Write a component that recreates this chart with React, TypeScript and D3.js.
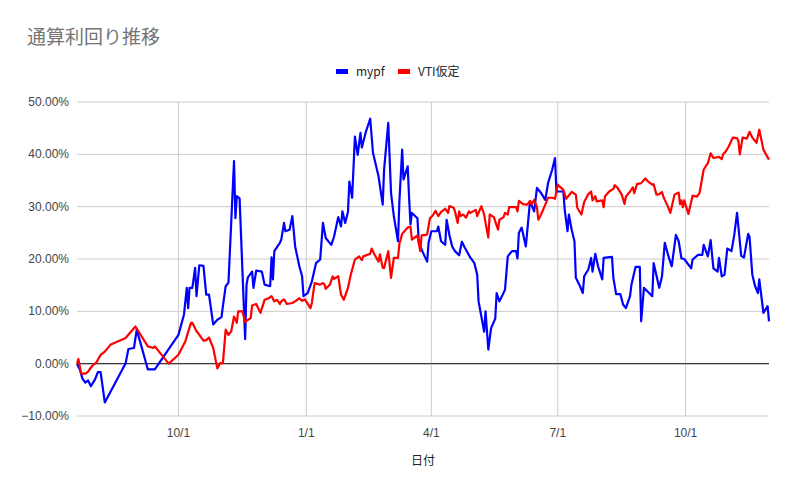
import React from "react";
import * as d3 from "d3";

const START = Date.UTC(2020, 6, 20);
const END_DAY = 498;

const mypfDays = [0,2,4,6,8,10,13,15,17,20,35,37,41,43,51,56,73,77,79,80,81,83,85,86,88,91,93,95,98,101,104,105,107,109,113,114,115,117,121,122,123,126,127,129,133,135,139,140,141,142,146,147,149,150,153,155,157,160,162,163,166,169,172,175,177,179,183,185,188,190,191,193,195,196,198,200,202,204,205,208,211,213,217,220,221,224,226,228,231,232,234,235,238,239,240,241,245,246,249,252,253,255,259,260,262,265,266,268,270,272,275,277,279,283,286,288,289,291,293,294,296,298,301,302,304,308,310,313,316,317,318,320,323,326,329,331,334,337,339,342,344,345,350,351,353,354,356,358,359,362,364,365,368,370,371,373,375,378,379,385,386,388,391,393,395,398,399,402,405,406,408,414,415,419,421,423,426,428,431,433,435,437,442,443,447,450,451,454,456,458,461,462,464,466,468,471,473,475,478,480,483,484,486,488,490,491,494,497,498];
const mypfValues = [0,-1.1,-2.9,-3.6,-3.2,-4.3,-3.0,-1.6,-1.6,-7.4,0.1,2.8,3.0,6.5,-1.1,-1.1,5.5,9.4,14.5,10.6,14.5,14.5,18.3,12.9,18.8,18.7,13.2,13.2,7.5,8.4,8.9,11.0,14.8,15.5,38.7,27.8,32.0,31.6,4.7,15.1,16.5,17.6,14.5,17.8,17.6,15.1,14.8,20.3,16.1,21.5,23.1,23.7,26.9,25.3,25.6,28.2,22.4,18.6,16.7,12.9,13.5,15.7,19.2,19.9,26.9,24.0,22.7,24.3,28.0,26.2,29.1,26.9,29.0,34.8,31.7,43.4,39.9,44.1,41.3,44.4,46.8,40.3,35.8,30.4,37.1,46.0,32.6,28.2,23.4,31.0,40.9,35.2,37.7,31.7,26.6,28.8,27.8,23.1,21.2,19.5,23.1,25.3,25.3,26.2,23.4,22.7,27.5,24.6,22.4,21.5,20.7,23.3,22.2,20.3,19.2,17.0,11.9,9.0,6.1,10.0,2.7,6.8,8.6,13.5,11.9,14.1,20.5,21.5,21.5,20.1,25.0,26.0,22.4,31.0,29.1,33.6,32.6,31.3,34.5,37.1,39.3,32.9,32.9,29.4,25.3,28.5,25.6,23.4,16.4,14.8,13.5,16.7,18.0,20.2,17.6,21.0,18.6,16.1,20.2,20.4,16.4,13.3,13.3,11.3,10.6,12.9,15.1,18.5,18.5,8.1,14.5,12.9,19.2,14.5,16.7,23.1,20.2,18.6,24.6,23.4,20.1,20.0,18.2,19.9,20.8,20.8,22.7,20.5,23.6,18.2,17.6,20.2,16.7,17.0,22.0,21.5,24.6,28.8,20.6,20.3,24.8,24.2,17.0,14.8,13.5,16.1,9.7,11.0,8.1];

const vtiDays = [0,1,3,6,8,11,14,17,20,24,35,42,51,55,56,66,73,78,82,83,86,87,91,93,95,98,101,103,105,107,109,111,113,115,116,119,121,122,125,126,129,132,135,138,140,142,144,146,147,149,151,155,157,160,162,164,168,169,170,171,175,177,178,179,182,184,185,188,190,192,195,197,200,203,205,206,211,212,214,217,218,220,221,224,226,228,231,232,234,238,240,241,244,245,247,248,251,252,254,256,258,260,262,265,267,268,271,272,274,275,276,278,280,282,283,285,287,288,291,293,294,296,297,300,303,304,307,308,310,311,316,317,318,321,324,326,327,329,331,332,334,337,339,342,344,345,346,350,352,356,359,360,363,365,368,370,371,373,374,378,379,380,383,386,387,389,392,394,395,398,400,401,403,406,409,411,414,415,417,419,421,422,423,425,427,430,433,434,435,436,437,440,443,446,448,449,451,454,456,458,462,464,465,467,469,472,475,476,477,479,482,484,486,489,491,494,496,498];
const vtiValues = [0,0.9,-1.9,-1.9,-1.5,-0.4,0.25,1.7,2.3,3.6,4.9,7.1,3.3,3.0,3.3,0,1.7,4.3,7.8,7.8,6.2,5.9,4.4,4.5,5.0,3.0,-0.9,0.1,0.1,6.5,5.5,6.2,9.0,7.8,10.0,10.0,7.9,8.2,8.7,11.1,11.4,9.7,12.2,12.5,12.9,11.9,12.2,11.4,11.9,12.3,11.4,11.6,11.9,12.5,12.0,12.3,10.6,11.6,13.5,15.4,15.1,15.4,15.2,14.3,15.1,16.7,16.2,16.7,13.2,12.2,14.5,17.0,19.9,20.5,19.8,20.5,21.0,22.0,20.9,19.5,20.9,18.3,18.3,21.5,16.4,20.2,20.2,22.9,24.8,26.0,26.2,23.7,24.3,24.5,21.5,24.5,24.6,24.7,27.8,28.3,29.2,28.2,29.0,29.6,28.8,30.1,29.8,29.1,26.9,29.1,28.2,28.5,27.9,29.1,28.8,29.1,29.4,28.2,30.1,28.5,26.9,24.1,28.5,28.0,25.6,27.5,28.0,28.8,28.5,29.9,29.9,29.1,31.1,30.5,30.4,31.1,30.4,31.3,29.9,27.5,28.5,30.4,31.7,31.7,31.5,32.9,34.2,33.2,31.5,32.8,32.3,29.8,28.5,30.9,32.4,32.9,31.2,32.0,31.0,31.2,29.9,32.0,32.9,33.4,34.1,33.6,32.3,30.5,31.9,32.9,33.7,32.6,34.3,34.5,35.4,34.8,34.2,34.3,32.3,32.4,32.8,31.9,31.3,30.2,28.8,32.3,32.7,30.5,31.2,29.9,31.2,28.6,32.1,31.9,32.6,34.1,37.1,38.3,40.2,39.3,39.5,39.1,40.0,40.6,41.5,43.2,43.1,42.5,40.0,43.2,43.0,44.3,43.2,42.2,44.7,40.9,39.9,39.0];

const yTicks = [-10, 0, 10, 20, 30, 40, 50];
const xTickDates = ["2020-10-01", "2021-01-01", "2021-04-01", "2021-07-01", "2021-10-01"];
const xTickLabels = ["10/1", "1/1", "4/1", "7/1", "10/1"];

const seriesNames = ["mypf", "VTI仮定"];
const seriesColors = ["#0000ff", "#ff0000"];

const toDate = (d: number) => new Date(START + d * 864e5);

export default function App() {
  const W = 795, H = 493;
  const x = d3.scaleUtc().domain([toDate(0), toDate(END_DAY)]).range([77, 769]);
  const y = d3.scaleLinear().domain([-10, 50]).range([416, 102]);

  const line = d3
    .line<[number, number]>()
    .x((p) => x(toDate(p[0])))
    .y((p) => y(p[1]));

  const blue = mypfDays.map((d, i) => [d, mypfValues[i]] as [number, number]);
  const red = vtiDays.map((d, i) => [d, vtiValues[i]] as [number, number]);

  const labelFont = "Arial, 'Liberation Sans', sans-serif";
  const cjkFont = "'Noto Sans CJK JP', sans-serif";

  return (
    <svg
      width={W}
      height={H}
      style={{ position: "fixed", left: 0, top: 0, background: "#fff" }}
    >
      <rect x={0} y={0} width={W} height={H} fill="#fff" />
      <text x={27} y={44} fontSize={19} fill="#757575" fontFamily={cjkFont}>
        通算利回り推移
      </text>

      {/* legend */}
      <g fontFamily={cjkFont} fontSize={12} fill="#222">
        <rect x={336} y={69} width={12} height={5} fill={seriesColors[0]} />
        <text x={356} y={76}>{seriesNames[0]}</text>
        <rect x={398} y={69} width={12} height={5} fill={seriesColors[1]} />
        <text x={418} y={76}>{seriesNames[1]}</text>
      </g>

      {/* horizontal grid */}
      {yTicks.map((t) => (
        <g key={t}>
          <line
            x1={77}
            x2={769}
            y1={y(t)}
            y2={y(t)}
            stroke={t === 0 ? "#333" : "#cccccc"}
            strokeWidth={1}
          />
          <text
            x={69}
            y={y(t) + 4}
            textAnchor="end"
            fontSize={12}
            fill="#444"
            fontFamily={labelFont}
          >
            {d3.format(".2f")(t) + "%"}
          </text>
        </g>
      ))}

      {/* vertical grid */}
      {xTickDates.map((s, i) => {
        const xx = x(new Date(s + "T00:00:00Z"));
        return (
          <g key={s}>
            <line x1={xx} x2={xx} y1={102} y2={416} stroke="#cccccc" strokeWidth={1} />
            <text
              x={xx}
              y={437}
              textAnchor="middle"
              fontSize={12}
              fill="#444"
              fontFamily={labelFont}
            >
              {xTickLabels[i]}
            </text>
          </g>
        );
      })}
      <line x1={77} x2={769} y1={y(0)} y2={y(0)} stroke="#333" strokeWidth={1} />

      <path d={line(blue) || ""} fill="none" stroke={seriesColors[0]} strokeWidth={2.2} strokeLinejoin="round" />
      <path d={line(red) || ""} fill="none" stroke={seriesColors[1]} strokeWidth={2.2} strokeLinejoin="round" />

      <text x={423} y={465} textAnchor="middle" fontSize={12} fill="#222" fontFamily={cjkFont}>
        日付
      </text>
    </svg>
  );
}
